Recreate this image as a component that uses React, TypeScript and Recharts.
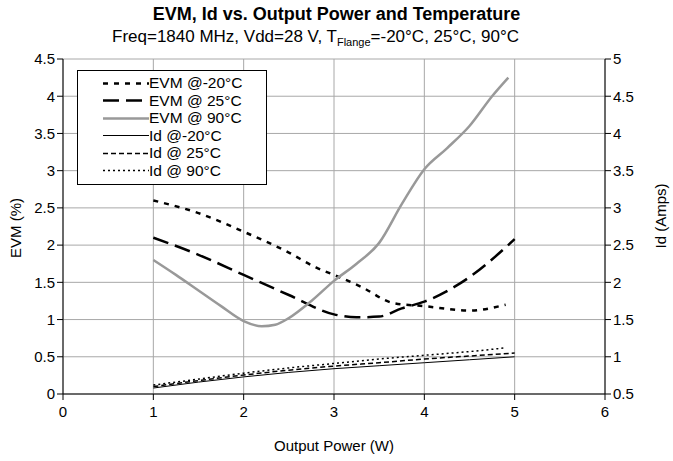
import { LineChart, Line, XAxis, YAxis, CartesianGrid } from 'recharts';

const powerTicks = [0, 1, 2, 3, 4, 5, 6];
const evmTicks = [0, 0.5, 1, 1.5, 2, 2.5, 3, 3.5, 4, 4.5];
const idTicks = [0.5, 1, 1.5, 2, 2.5, 3, 3.5, 4, 4.5, 5];

// EVM (%) per output power (W)
const evmM20Power = [1, 1.5, 2, 2.5, 2.8, 3, 3.3, 3.66, 4, 4.5, 4.9];
const evmM20 = [2.6, 2.43, 2.18, 1.9, 1.7, 1.6, 1.44, 1.22, 1.18, 1.12, 1.2];
const evm25Power = [1, 1.5, 2, 2.5, 3, 3.25, 3.5, 3.75, 4, 4.5, 5];
const evm25 = [2.1, 1.87, 1.6, 1.33, 1.07, 1.03, 1.04, 1.15, 1.24, 1.57, 2.08];
const evm90Power = [1, 1.25, 1.5, 1.75, 2, 2.2, 2.35, 2.5, 2.75, 3, 3.25, 3.5, 3.75, 4, 4.25, 4.5, 4.75, 4.93];
const evm90 = [1.8, 1.6, 1.39, 1.18, 0.98, 0.91, 0.93, 1.02, 1.25, 1.52, 1.75, 2.03, 2.55, 3.02, 3.3, 3.6, 4.0, 4.25];

// Id (Amps) per output power (W)
const idPower = [1, 1.5, 2, 2.5, 3, 3.5, 4, 4.5, 5];
const idM20 = [0.58, 0.66, 0.73, 0.79, 0.84, 0.88, 0.92, 0.96, 1.0];
const id25 = [0.6, 0.68, 0.755, 0.82, 0.875, 0.92, 0.97, 1.01, 1.05];
const id90Power = [1, 1.5, 2, 2.5, 3, 3.5, 4, 4.5, 4.9];
const id90 = [0.62, 0.7, 0.78, 0.85, 0.91, 0.97, 1.02, 1.07, 1.12];

const pts = (xs: number[], ys: number[]) => xs.map((x, i) => ({ x, y: ys[i] }));

const series = [
  { name: 'EVM @-20°C', data: pts(evmM20Power, evmM20), axis: 'evm', color: '#000', width: 2.5, dash: '5 6' },
  { name: 'EVM @ 25°C', data: pts(evm25Power, evm25), axis: 'evm', color: '#000', width: 2.5, dash: '16 7' },
  { name: 'EVM @ 90°C', data: pts(evm90Power, evm90), axis: 'evm', color: '#999', width: 2.5, dash: undefined },
  { name: 'Id @-20°C', data: pts(idPower, idM20), axis: 'id', color: '#000', width: 1, dash: undefined },
  { name: 'Id @ 25°C', data: pts(idPower, id25), axis: 'id', color: '#000', width: 1.5, dash: '5 3' },
  { name: 'Id @ 90°C', data: pts(id90Power, id90), axis: 'id', color: '#000', width: 1.5, dash: '2 3' },
];

const font = '"Liberation Sans", Arial, sans-serif';
const tickStyle = { fontSize: 15, fill: '#000', fontFamily: font };

export default function App() {
  return (
    <div style={{ position: 'absolute', left: 0, top: 0, width: 673, height: 461, fontFamily: font, background: '#fff' }}>
      <LineChart width={673} height={461} margin={{ top: 59, right: 0, left: 0, bottom: 0 }}>
        <CartesianGrid yAxisId="evm" stroke="#a8a8a8" />
        <XAxis
          type="number"
          dataKey="x"
          domain={[0, 6]}
          ticks={powerTicks}
          allowDuplicatedCategory={false}
          height={67}
          tick={tickStyle}
          tickMargin={6}
          axisLine={{ stroke: '#000' }}
          tickLine={{ stroke: '#000' }}
        />
        <YAxis
          yAxisId="evm"
          domain={[0, 4.5]}
          ticks={evmTicks}
          width={63}
          tick={tickStyle}
          axisLine={{ stroke: '#000' }}
          tickLine={{ stroke: '#000' }}
        />
        <YAxis
          yAxisId="id"
          orientation="right"
          domain={[0.5, 5]}
          ticks={idTicks}
          width={68}
          tick={tickStyle}
          axisLine={{ stroke: '#000' }}
          tickLine={{ stroke: '#000' }}
        />
        {series.map((s) => (
          <Line
            key={s.name}
            name={s.name}
            data={s.data}
            dataKey="y"
            yAxisId={s.axis}
            type="monotone"
            stroke={s.color}
            strokeWidth={s.width}
            strokeDasharray={s.dash}
            dot={false}
            activeDot={false}
            isAnimationActive={false}
          />
        ))}
      </LineChart>

      <div style={{ position: 'absolute', top: 4, left: 0, width: 673, textAlign: 'center', fontWeight: 'bold', fontSize: 18 }}>
        EVM, Id vs. Output Power and Temperature
      </div>
      <div style={{ position: 'absolute', top: 27, left: -21, width: 673, textAlign: 'center', fontSize: 17 }}>
        Freq=1840 MHz, Vdd=28 V, T<sub style={{ fontSize: 11 }}>Flange</sub>=-20°C, 25°C, 90°C
      </div>
      <div style={{ position: 'absolute', left: 15, top: 228, fontSize: 15, transform: 'translate(-50%, -50%) rotate(-90deg)', whiteSpace: 'nowrap' }}>
        EVM (%)
      </div>
      <div style={{ position: 'absolute', left: 660, top: 216, fontSize: 15, transform: 'translate(-50%, -50%) rotate(-90deg)', whiteSpace: 'nowrap' }}>
        Id (Amps)
      </div>
      <div style={{ position: 'absolute', left: 334, top: 445, fontSize: 15, transform: 'translate(-50%, -50%)', whiteSpace: 'nowrap' }}>
        Output Power (W)
      </div>

      <div style={{ position: 'absolute', left: 77, top: 70, width: 190, height: 115, border: '1px solid #000', background: '#fff', boxSizing: 'border-box' }}>
        {series.map((s, i) => (
          <div key={s.name} style={{ position: 'absolute', left: 25, top: 3 + i * 17.5, height: 18, display: 'flex', alignItems: 'center', fontSize: 15.5 }}>
            <svg width={46} height={11}>
              <line x1={0} y1={5.5} x2={46} y2={5.5} stroke={s.color} strokeWidth={s.width} strokeDasharray={s.dash} />
            </svg>
            <span>{s.name}</span>
          </div>
        ))}
      </div>
    </div>
  );
}
